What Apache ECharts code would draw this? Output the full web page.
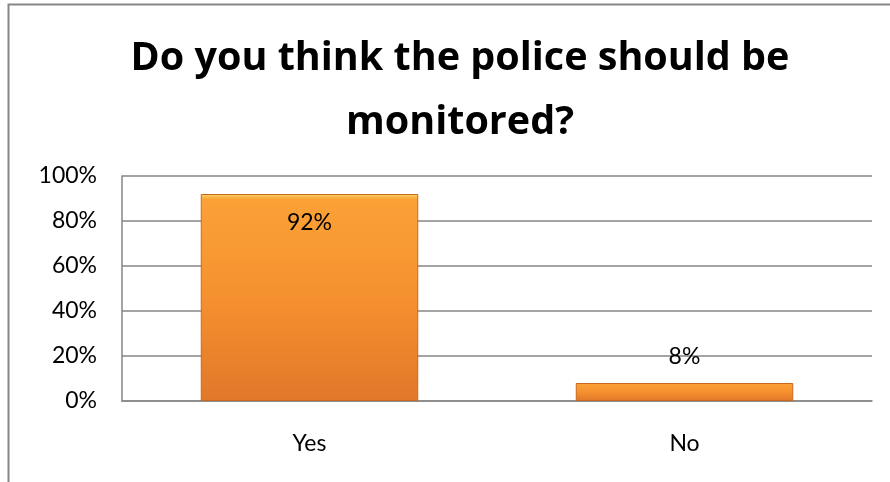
<!DOCTYPE html>
<html>
<head>
<meta charset="utf-8">
<script src="https://cdn.jsdelivr.net/npm/echarts@6/dist/echarts.min.js"></script>
<style>
  html, body { margin: 0; padding: 0; background: #fff; }
  #chart { width: 890px; height: 482px; }
</style>
</head>
<body>
<div id="chart"></div>
<script>
// Survey answers and their shares (percent)
const categories = ['Yes', 'No'];
const shares = [92, 8];
const yTicks = [0, 20, 40, 60, 80, 100];

const chart = echarts.init(document.getElementById('chart'));

// Orange bar fill with a light bevel along the top edge
const barFill = new echarts.graphic.LinearGradient(0, 0, 0, 1, [
  { offset: 0, color: '#FFD866' },
  { offset: 0.025, color: '#FBA136' },
  { offset: 0.5, color: '#F5912F' },
  { offset: 1, color: '#E0782A' }
]);

chart.setOption({
  animation: false,
  backgroundColor: '#ffffff',
  textStyle: { fontFamily: 'Lato' },
  title: {
    text: 'Do you think the police should be\nmonitored?',
    left: 455,
    textAlign: 'center',
    top: 22,
    textStyle: {
      fontFamily: 'Open Sans',
      fontWeight: 'bold',
      fontSize: 39.5,
      lineHeight: 64,
      color: '#000'
    }
  },
  graphic: [{
    type: 'rect',
    shape: { x: 8.5, y: 4.5, width: 1000, height: 1000 },
    style: { fill: 'none', stroke: '#868686', lineWidth: 2 },
    silent: true
  }],
  grid: { left: 122, right: 18, top: 176, bottom: 81 },
  xAxis: {
    type: 'category',
    data: categories,
    axisLine: { lineStyle: { color: '#868686', width: 1.5 } },
    axisTick: { show: false },
    axisLabel: { color: '#000', fontSize: 23, margin: 31, fontFamily: 'Lato' }
  },
  yAxis: {
    type: 'value',
    min: yTicks[0],
    max: yTicks[yTicks.length - 1],
    interval: 20,
    axisLine: { show: true, lineStyle: { color: '#868686', width: 1.5 } },
    axisTick: { show: false },
    splitLine: { lineStyle: { color: '#868686', width: 1.5 } },
    axisLabel: { color: '#000', fontSize: 23, margin: 25, formatter: v => v + '%', fontFamily: 'Lato' }
  },
  series: [{
    type: 'bar',
    data: shares.map((v, i) => ({
      value: v,
      label: i === 0
        ? { position: 'insideTop', distance: 17 }
        : { position: 'top', distance: 15 }
    })),
    barWidth: '58%',
    itemStyle: { color: barFill, borderColor: '#C9691F', borderWidth: 1 },
    label: {
      show: true,
      formatter: p => p.value + '%',
      color: '#000',
      fontSize: 23,
      fontFamily: 'Lato'
    }
  }]
});
</script>
</body>
</html>
